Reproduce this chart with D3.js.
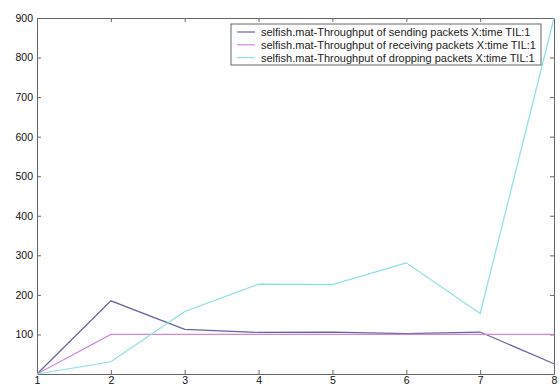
<!DOCTYPE html>
<html>
<head>
<meta charset="utf-8">
<script src="https://cdn.jsdelivr.net/npm/d3@7"></script>
<style>
  body { margin: 0; background: white; }
  text { font-family: "Liberation Sans", Arial, sans-serif; }
</style>
</head>
<body>
<div id="chart"></div>
<script>
let width = 560, height = 388;

let margin = { top: 18, bottom: 14, left: 37, right: 6 };

let times = [1, 2, 3, 4, 5, 6, 7, 8];
let sending = [0, 185, 113, 105, 106, 102, 106, 26];
let receiving = [0, 100, 100, 100, 100, 100, 100, 100];
let dropping = [0, 31, 158, 227, 226, 281, 153, 900];
let yTicks = [100, 200, 300, 400, 500, 600, 700, 800, 900];

let seriesNames = [
  'selfish.mat-Throughput of sending packets X:time TIL:1',
  'selfish.mat-Throughput of receiving packets X:time TIL:1',
  'selfish.mat-Throughput of dropping packets X:time TIL:1'
];
let colors = ['#6464a4', '#d389d8', '#8de0e2'];
let series = [sending, receiving, dropping];

let svg = d3.select('#chart')
  .append('svg')
  .attr('width', width)
  .attr('height', height)
  .style('background', 'white');

let xscale = d3.scaleLinear()
  .domain([1, 8])
  .range([margin.left, width - margin.right]);

let yscale = d3.scaleLinear()
  .domain([0, 900])
  .range([height - margin.bottom, margin.top]);

let axisColor = '#666';

// inward ticks on all four sides
let xAxisBottom = svg.append('g')
  .attr('transform', `translate(0, ${height - margin.bottom})`)
  .call(d3.axisBottom(xscale).tickValues(times).tickFormat(d3.format('d')).tickSizeInner(-4).tickSizeOuter(0).tickPadding(3));

let xAxisTop = svg.append('g')
  .attr('transform', `translate(0, ${margin.top})`)
  .call(d3.axisTop(xscale).tickValues(times).tickFormat('').tickSizeInner(-4).tickSizeOuter(0));

let yAxisLeft = svg.append('g')
  .attr('transform', `translate(${margin.left}, 0)`)
  .call(d3.axisLeft(yscale).tickValues(yTicks).tickSizeInner(-4).tickSizeOuter(0).tickPadding(4));

let yAxisRight = svg.append('g')
  .attr('transform', `translate(${width - margin.right}, 0)`)
  .call(d3.axisRight(yscale).tickValues(yTicks).tickFormat('').tickSizeInner(-4).tickSizeOuter(0));

[xAxisBottom, xAxisTop, yAxisLeft, yAxisRight].forEach(g => {
  g.selectAll('path, line').attr('stroke', axisColor);
  g.selectAll('text')
    .attr('fill', '#111')
    .style('font-size', '10.5px')
    .style('font-family', '"Liberation Sans", Arial, sans-serif');
});

let line = d3.line()
  .x((d, i) => xscale(times[i]))
  .y(d => yscale(d));

series.forEach((s, k) => {
  svg.append('path')
    .datum(s)
    .attr('d', line)
    .attr('fill', 'none')
    .attr('stroke', colors[k])
    .attr('stroke-width', 1.2);
});

// legend
let legend = svg.append('g').attr('transform', 'translate(231, 24)');

legend.append('rect')
  .attr('width', 310)
  .attr('height', 41)
  .attr('fill', 'white')
  .attr('stroke', axisColor);

seriesNames.forEach((name, k) => {
  let y = 8 + k * 12.8;
  legend.append('line')
    .attr('x1', 6).attr('x2', 24)
    .attr('y1', y).attr('y2', y)
    .attr('stroke', colors[k])
    .attr('stroke-width', 1.2);
  legend.append('text')
    .text(name)
    .attr('x', 30)
    .attr('y', y + 4)
    .attr('fill', '#222')
    .style('font-size', '11px');
});
</script>
</body>
</html>
